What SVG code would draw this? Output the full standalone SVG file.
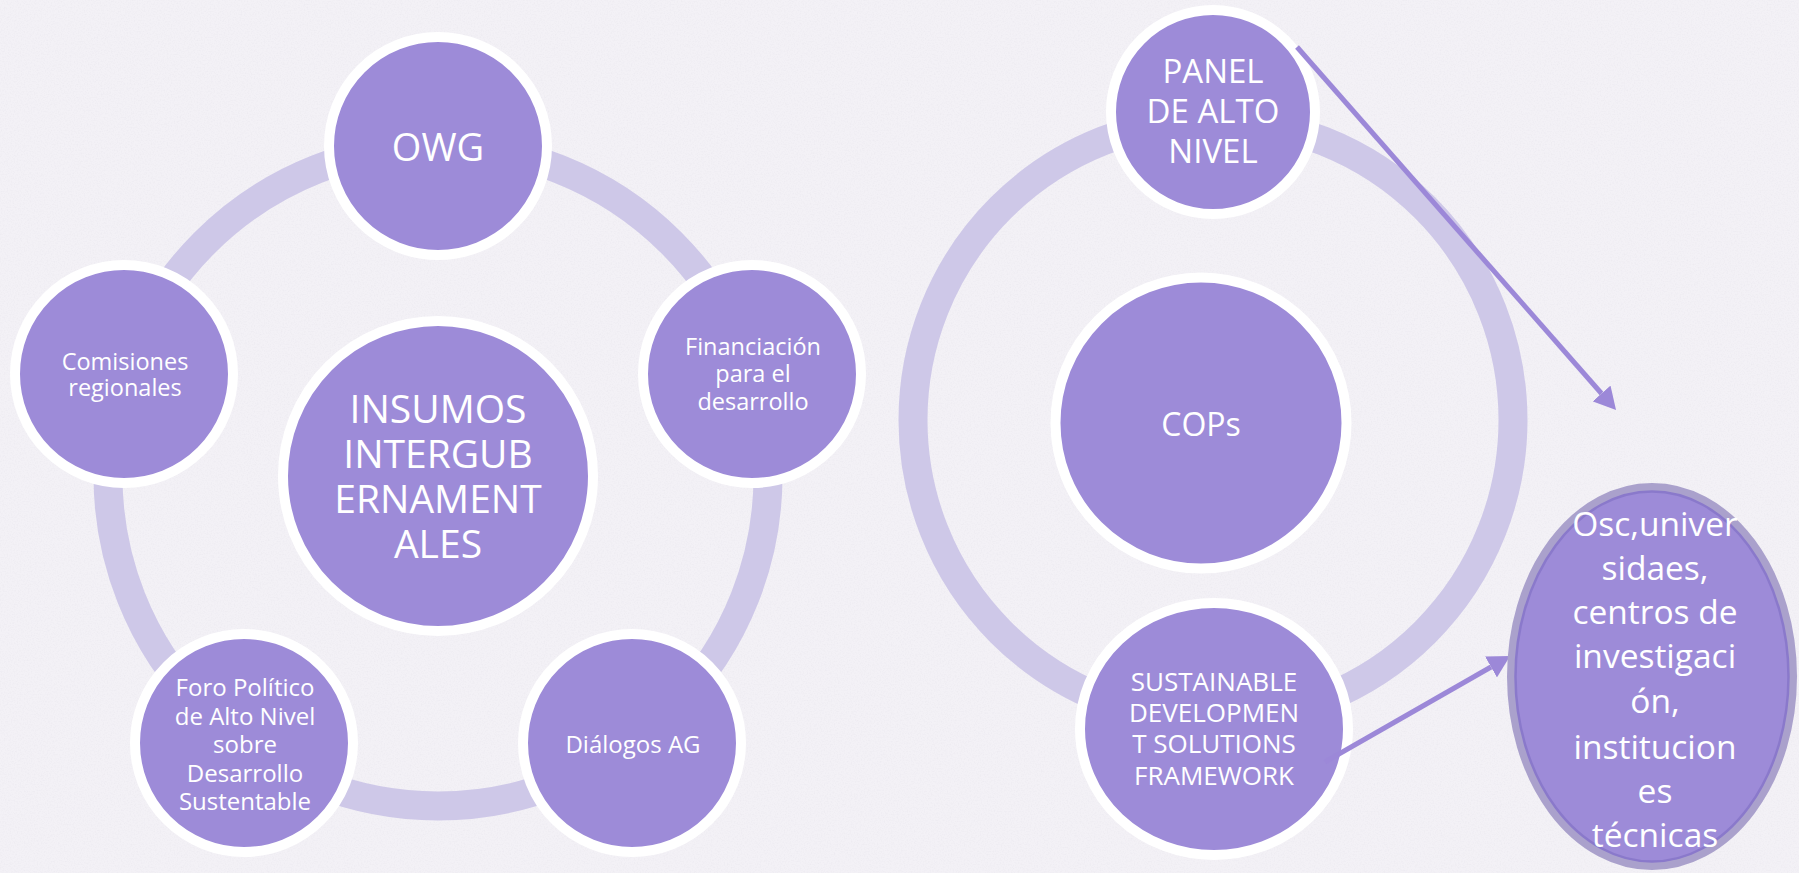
<svg xmlns="http://www.w3.org/2000/svg" width="1799" height="873" viewBox="0 0 1799 873">
  <style>
    .ring { fill: none; stroke: #cec8e8; stroke-width: 29; }
    .node { fill: #9d8bd8; stroke: #ffffff; stroke-width: 10; }
    .lbl { fill: #ffffff; font-family: "Open Sans", "Noto Sans", sans-serif; text-anchor: middle; }
    .conn { stroke: #9c88d8; stroke-width: 5; fill: none; marker-end: url(#head); }
  </style>
  <defs>
    <marker id="head" markerUnits="userSpaceOnUse" markerWidth="22" markerHeight="24" refX="0" refY="12" orient="auto">
      <path d="M0,0 L22,12 L0,24 Z" fill="#9c88d8"/>
    </marker>
    <filter id="paper" x="0" y="0" width="100%" height="100%">
      <feTurbulence type="fractalNoise" baseFrequency="0.7" numOctaves="2" seed="3" result="n"/>
      <feColorMatrix in="n" type="matrix" values="0 0 0 0 0.6  0 0 0 0 0.58  0 0 0 0 0.66  0 0 0 -1.4 0.8"/>
    </filter>
  </defs>

  <rect x="0" y="0" width="1799" height="873" fill="#f3f1f6"/>
  <rect x="0" y="0" width="1799" height="873" filter="url(#paper)" opacity="0.22"/>

  <!-- rings -->
  <circle class="ring" cx="438" cy="476" r="330"/>
  <circle class="ring" cx="1213" cy="420" r="300"/>

  <!-- left cycle -->
  <g id="owg">
    <circle class="node" cx="438" cy="146" r="109"/>
    <text class="lbl" x="438" y="161" font-size="38">OWG</text>
  </g>
  <g id="financiacion">
    <circle class="node" cx="752" cy="374" r="109"/>
    <text class="lbl" font-size="23.5"><tspan x="753" y="355">Financiación</tspan><tspan x="753" y="382">para el</tspan><tspan x="753" y="410">desarrollo</tspan></text>
  </g>
  <g id="dialogos">
    <circle class="node" cx="632" cy="743" r="109"/>
    <text class="lbl" x="633" y="753" font-size="24">Diálogos AG</text>
  </g>
  <g id="foro">
    <circle class="node" cx="244" cy="743" r="109"/>
    <text class="lbl" font-size="24"><tspan x="245" y="696">Foro Político</tspan><tspan x="245" y="724.5">de Alto Nivel</tspan><tspan x="245" y="753">sobre</tspan><tspan x="245" y="781.5">Desarrollo</tspan><tspan x="245" y="810">Sustentable</tspan></text>
  </g>
  <g id="comisiones">
    <circle class="node" cx="124" cy="374" r="109"/>
    <text class="lbl" font-size="23.5"><tspan x="125" y="370">Comisiones</tspan><tspan x="125" y="396">regionales</tspan></text>
  </g>
  <g id="insumos">
    <circle class="node" cx="438" cy="476" r="155"/>
    <text class="lbl" font-size="39"><tspan x="438" y="423">INSUMOS</tspan><tspan x="438" y="468">INTERGUB</tspan><tspan x="438" y="513">ERNAMENT</tspan><tspan x="438" y="558">ALES</tspan></text>
  </g>

  <!-- right cycle -->
  <g id="panel">
    <circle class="node" cx="1213" cy="112" r="102"/>
    <text class="lbl" font-size="33"><tspan x="1213" y="83">PANEL</tspan><tspan x="1213" y="123">DE ALTO</tspan><tspan x="1213" y="163">NIVEL</tspan></text>
  </g>
  <g id="cops">
    <circle class="node" cx="1201" cy="423" r="145.5"/>
    <text class="lbl" x="1201" y="436" font-size="32">COPs</text>
  </g>
  <g id="sdsf">
    <ellipse class="node" cx="1214" cy="729" rx="134" ry="126"/>
    <text class="lbl" font-size="26"><tspan x="1214" y="691">SUSTAINABLE</tspan><tspan x="1214" y="722">DEVELOPMEN</tspan><tspan x="1214" y="753">T SOLUTIONS</tspan><tspan x="1214" y="784.5">FRAMEWORK</tspan></text>
  </g>

  <!-- connectors -->
  <g id="connectors">
    <line class="conn" x1="1297" y1="47" x2="1601.5" y2="393.5"/>
    <line class="conn" x1="1325" y1="762" x2="1491" y2="667"/>
  </g>

  <g id="osc">
    <ellipse cx="1652" cy="676.5" rx="141" ry="189.5" fill="#9d8bd8" stroke="#aaa1cc" stroke-width="8"/>
    <ellipse cx="1652" cy="676.5" rx="136.5" ry="185" fill="none" stroke="#8a79cb" stroke-width="2.5"/>
    <text class="lbl" font-size="33.5"><tspan x="1655" y="536">Osc,univer</tspan><tspan x="1655" y="580">sidaes,</tspan><tspan x="1655" y="624">centros de</tspan><tspan x="1655" y="668">investigaci</tspan><tspan x="1655" y="713">ón,</tspan><tspan x="1655" y="759">institucion</tspan><tspan x="1655" y="803">es</tspan><tspan x="1655" y="847">técnicas</tspan></text>
  </g>
</svg>
